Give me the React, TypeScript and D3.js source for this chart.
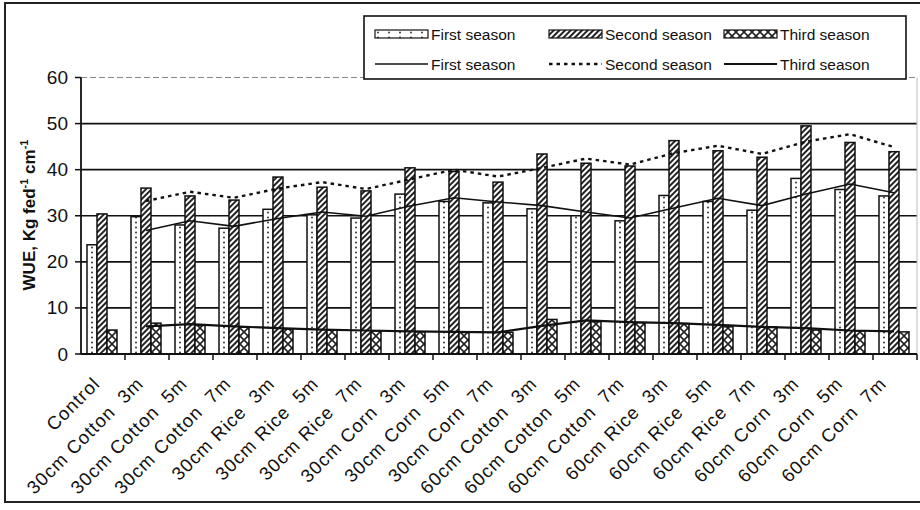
import React from 'react';
import * as d3 from 'd3';

const categories = [
  'Control',
  '30cm Cotton  3m', '30cm Cotton  5m', '30cm Cotton  7m',
  '30cm Rice  3m', '30cm Rice  5m', '30cm Rice  7m',
  '30cm Corn  3m', '30cm Corn  5m', '30cm Corn  7m',
  '60cm Cotton  3m', '60cm Cotton  5m', '60cm Cotton  7m',
  '60cm Rice  3m', '60cm Rice  5m', '60cm Rice  7m',
  '60cm Corn  3m', '60cm Corn  5m', '60cm Corn  7m',
];

const firstSeason = [23.7, 29.8, 28.0, 27.3, 31.4, 30.2, 29.5, 34.7, 33.1, 32.8, 31.5, 30.0, 28.9, 34.4, 33.1, 31.2, 38.1, 35.7, 34.3];
const secondSeason = [30.4, 36.0, 34.3, 33.4, 38.4, 36.2, 35.4, 40.4, 39.6, 37.3, 43.4, 41.4, 40.8, 46.3, 44.1, 42.7, 49.5, 45.9, 43.9];
const thirdSeason = [5.2, 6.7, 6.2, 5.8, 5.4, 5.2, 5.0, 4.8, 4.7, 4.7, 7.5, 7.0, 6.8, 6.6, 5.9, 5.9, 5.2, 5.0, 4.8];

const firstLine = [null, 26.8, 28.9, 27.7, 29.4, 30.8, 29.9, 32.1, 33.9, 33.0, 32.2, 30.8, 29.5, 31.7, 33.8, 32.2, 34.7, 36.9, 35.0];
const secondLine = [null, 33.2, 35.2, 33.9, 35.9, 37.3, 35.8, 37.9, 40.0, 38.5, 40.4, 42.4, 41.1, 43.6, 45.2, 43.4, 46.1, 47.7, 44.9];
const thirdLine = [null, 6.0, 6.5, 6.0, 5.6, 5.3, 5.1, 4.9, 4.8, 4.7, 6.1, 7.3, 6.9, 6.7, 6.3, 5.9, 5.6, 5.1, 4.9];

const yTicks = [0, 10, 20, 30, 40, 50, 60];
const seriesKeys = ['first', 'second', 'third'];
const seriesNames = ['First season', 'Second season', 'Third season'];

const FONT = '"Liberation Sans", Arial, sans-serif';

export default function App() {
  const x = d3.scaleBand<string>().domain(categories).range([81, 917]).paddingInner(0).paddingOuter(0);
  const sub = d3.scaleBand<string>().domain(seriesKeys).range([6, 36]);
  const y = d3.scaleLinear().domain([0, 60]).range([354, 77.5]);
  const step = x.step();

  const barData = [firstSeason, secondSeason, thirdSeason];
  const fills = ['url(#patDots)', 'url(#patHatch)', 'url(#patCross)'];

  const cx = (c: string) => (x(c) as number) + (sub('second') as number) + sub.bandwidth() / 2;
  const mkLine = (vals: (number | null)[]) =>
    d3.line<number | null>()
      .defined((d) => d != null)
      .x((_, i) => cx(categories[i]))
      .y((d) => y(d as number))(vals) as string;

  const lineStyles = [
    { stroke: '#111', width: 1.6, dash: undefined as string | undefined },
    { stroke: '#111', width: 2.4, dash: '3.5,4' },
    { stroke: '#111', width: 2.2, dash: undefined as string | undefined },
  ];
  const lineVals = [firstLine, secondLine, thirdLine];

  const dotOffset = 81 + (sub('first') as number);
  const legendCols = [375, 549, 724];
  const legendTextX = [431, 605, 780];

  return (
    <div style={{ position: 'fixed', left: 0, top: 0 }}>
      <svg width={920} height={510} style={{ display: 'block', background: '#fff' }} fontFamily={FONT}>
        <defs>
          <pattern id="patDots" patternUnits="userSpaceOnUse" width={step / 4} height={5} x={dotOffset} y={0}>
            <rect width={step / 4} height={5} fill="#fff" />
            <circle cx={sub.bandwidth() / 2} cy={2.5} r={0.9} fill="#222" />
          </pattern>
          <pattern id="patHatch" patternUnits="userSpaceOnUse" width={4} height={4} patternTransform="rotate(45)">
            <rect width={4} height={4} fill="#fff" />
            <line x1={1} y1={0} x2={1} y2={4} stroke="#222" strokeWidth={2} />
          </pattern>
          <pattern id="patCross" patternUnits="userSpaceOnUse" width={8} height={8}>
            <rect width={8} height={8} fill="#fff" />
            <path d="M0,0L8,8M8,0L0,8" stroke="#222" strokeWidth={1.6} />
          </pattern>
        </defs>

        {/* outer frame */}
        <rect x={5} y={3} width={940} height={499} fill="none" stroke="#222" strokeWidth={2} />

        {/* gridlines */}
        {yTicks.filter((t) => t > 0).map((t) => (
          <line key={'g' + t} x1={81} x2={917} y1={y(t)} y2={y(t)}
            stroke={t === 60 ? '#888' : '#111'} strokeWidth={t === 60 ? 1 : 1.6}
            strokeDasharray={t === 60 ? '6,3' : undefined} />
        ))}
        <line x1={917} x2={917} y1={y(60)} y2={y(0)} stroke="#bbb" strokeWidth={1} />

        {/* bars */}
        {barData.map((vals, si) => (
          <g key={'s' + si}>
            {vals.map((v, i) => (
              <rect key={i}
                x={(x(categories[i]) as number) + (sub(seriesKeys[si]) as number)}
                y={y(v)}
                width={sub.bandwidth()}
                height={y(0) - y(v)}
                fill={fills[si]}
                stroke="#111"
                strokeWidth={1.5} />
            ))}
          </g>
        ))}

        {/* trend lines */}
        {lineVals.map((vals, li) => (
          <path key={'l' + li} d={mkLine(vals)} fill="none" stroke={lineStyles[li].stroke}
            strokeWidth={lineStyles[li].width} strokeDasharray={lineStyles[li].dash} />
        ))}

        {/* axes */}
        <line x1={81} x2={81} y1={y(60)} y2={y(0)} stroke="#111" strokeWidth={1.8} />
        <line x1={81} x2={917} y1={y(0)} y2={y(0)} stroke="#111" strokeWidth={2} />
        {yTicks.map((t) => (
          <g key={'yt' + t}>
            <line x1={75} x2={81} y1={y(t)} y2={y(t)} stroke="#111" strokeWidth={1.5} />
            <text x={68} y={y(t)} textAnchor="end" dominantBaseline="central" fontSize={19} fill="#111">{t}</text>
          </g>
        ))}
        {categories.map((c, i) => (
          <line key={'xt' + i} x1={(x(c) as number) + step} x2={(x(c) as number) + step} y1={y(0)} y2={y(0) + 6}
            stroke="#111" strokeWidth={1.5} />
        ))}
        {categories.map((c, i) => {
          const ax = (x(c) as number) + step / 2 - 2 - i * 0.3;
          const ay = 385;
          return (
            <text key={'xl' + i} x={ax} y={ay} textAnchor="end" fontSize={18.5} fill="#111" letterSpacing={1}
              transform={`rotate(-45 ${ax} ${ay})`} style={{ whiteSpace: 'pre' }}>{c}</text>
          );
        })}

        {/* y label */}
        <text x={0} y={0} transform="translate(35 215) rotate(-90)" textAnchor="middle" fontSize={17} fontWeight="bold" fill="#111">
          WUE, Kg fed<tspan dy={-7} fontSize={11}>-1</tspan><tspan dy={7}> cm</tspan><tspan dy={-7} fontSize={11}>-1</tspan>
        </text>

        {/* legend */}
        <rect x={364} y={16} width={542} height={63} fill="#fff" stroke="#111" strokeWidth={1.6} />
        {seriesNames.map((n, i) => (
          <g key={'lg' + i}>
            <rect x={legendCols[i]} y={30} width={53} height={8} fill={fills[i]} stroke="#111" strokeWidth={1.2} />
            <text x={legendTextX[i]} y={34} dominantBaseline="central" fontSize={15.5} fill="#111">{n}</text>
            <line x1={legendCols[i]} x2={legendCols[i] + 53} y1={64} y2={64} stroke="#111"
              strokeWidth={lineStyles[i].width} strokeDasharray={lineStyles[i].dash} />
            <text x={legendTextX[i]} y={64} dominantBaseline="central" fontSize={15.5} fill="#111">{n}</text>
          </g>
        ))}
      </svg>
    </div>
  );
}
